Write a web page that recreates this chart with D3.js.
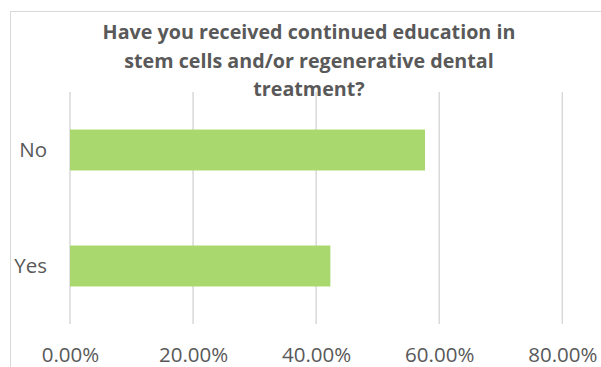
<!DOCTYPE html>
<html>
<head>
<meta charset="utf-8">
<script src="https://cdn.jsdelivr.net/npm/d3@7"></script>
<style>
  html, body { margin: 0; padding: 0; background: #fff; }
  svg { display: block; }
</style>
</head>
<body>
<svg id="chart" width="601" height="367"></svg>
<script>
// Survey answers and their shares
const categories = ["No", "Yes"];
const shares = [0.5769, 0.4231];
const tickValues = [0, 0.2, 0.4, 0.6, 0.8];
const titleLines = [
  "Have you received continued education in",
  "stem cells and/or regenerative dental",
  "treatment?"
];

const svg = d3.select("#chart");
const font = "'Open Sans', 'Noto Sans', sans-serif";
const textColor = "#595959";
const gridColor = "#d9d9d9";
const barColor = "#a9d86e";

// chart frame
svg.append("rect")
  .attr("x", 10.5).attr("y", 11.5)
  .attr("width", 598).attr("height", 370)
  .attr("fill", "none")
  .attr("stroke", gridColor)
  .attr("stroke-width", 1);

const plot = { left: 70, right: 562.3, top: 92, bottom: 324 };

const x = d3.scaleLinear().domain([0, 0.8]).range([plot.left, plot.right]);
const y = d3.scaleBand().domain(categories).range([plot.top, plot.bottom])
  .paddingInner(0.647).paddingOuter(0.3235);

// vertical gridlines
svg.append("g")
  .selectAll("line")
  .data(tickValues)
  .join("line")
  .attr("x1", d => x(d)).attr("x2", d => x(d))
  .attr("y1", plot.top).attr("y2", plot.bottom)
  .attr("stroke", gridColor)
  .attr("stroke-width", 1.5);

// bars
svg.append("g")
  .selectAll("rect")
  .data(categories.map((c, i) => ({ c, v: shares[i] })))
  .join("rect")
  .attr("x", x(0))
  .attr("y", d => y(d.c))
  .attr("width", d => x(d.v) - x(0))
  .attr("height", y.bandwidth())
  .attr("fill", barColor);

// x-axis tick labels
const xAxis = d3.axisBottom(x)
  .tickValues(tickValues)
  .tickFormat(d3.format(".2%"))
  .tickSize(0)
  .tickPadding(0);
const gx = svg.append("g")
  .attr("transform", `translate(0,${plot.bottom})`)
  .call(xAxis);
gx.select(".domain").remove();
gx.selectAll("text")
  .attr("dy", null)
  .attr("y", 38)
  .attr("font-family", font)
  .attr("font-size", 20.5)
  .attr("fill", textColor);

// category labels
const yAxis = d3.axisLeft(y).tickSize(0).tickPadding(0);
const gy = svg.append("g")
  .attr("transform", `translate(47,0)`)
  .call(yAxis);
gy.select(".domain").remove();
gy.selectAll("text")
  .attr("x", 0)
  .attr("dy", "0.35em")
  .attr("font-family", font)
  .attr("font-size", 20.5)
  .attr("fill", textColor);

// title
svg.append("text")
  .attr("x", 309)
  .attr("y", 39)
  .attr("text-anchor", "middle")
  .attr("font-family", font)
  .attr("font-size", 19.7)
  .attr("font-weight", "bold")
  .attr("fill", textColor)
  .selectAll("tspan")
  .data(titleLines)
  .join("tspan")
  .attr("x", 309)
  .attr("dy", (d, i) => i === 0 ? 0 : 28.5)
  .text(d => d);
</script>
</body>
</html>
